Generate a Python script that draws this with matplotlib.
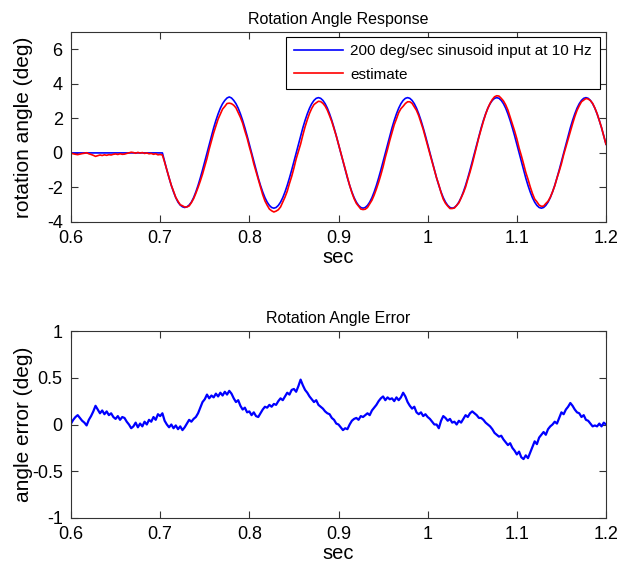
import numpy as np
import matplotlib
matplotlib.use("Agg")
import matplotlib.pyplot as plt

plt.rcParams['font.family'] = ['Liberation Sans', 'DejaVu Sans']

# time grid of the recorded samples (sec)
t_start, t_end, t_step = 0.6, 1.2, 0.0025

# input rotation angle (deg), one value per sample
input_angle = [0.0] * 42 + [
    -0.50, -0.99, -1.45, -1.88, -2.26, -2.59, -2.85, -3.02, -3.12, -3.16, -3.12, -3.02, -2.85, -2.59, -2.26, -1.88, -1.45, -0.99, -0.50,
    0.00, 0.50, 0.99, 1.45, 1.88, 2.26, 2.59, 2.85, 3.04, 3.18, 3.24, 3.18, 3.04, 2.85, 2.59, 2.26, 1.88, 1.45, 0.99, 0.50,
    0.00, -0.50, -0.99, -1.45, -1.88, -2.26, -2.59, -2.85, -3.04, -3.16, -3.20, -3.16, -3.04, -2.85, -2.59, -2.26, -1.88, -1.45, -0.99, -0.50,
    0.00, 0.50, 0.99, 1.45, 1.88, 2.26, 2.59, 2.85, 3.04, 3.16, 3.20, 3.16, 3.04, 2.85, 2.59, 2.26, 1.88, 1.45, 0.99, 0.50,
    0.00, -0.50, -0.99, -1.45, -1.88, -2.26, -2.59, -2.85, -3.04, -3.16, -3.20, -3.16, -3.04, -2.85, -2.59, -2.26, -1.88, -1.45, -0.99, -0.50,
    0.00, 0.50, 0.99, 1.45, 1.88, 2.26, 2.59, 2.85, 3.04, 3.16, 3.20, 3.16, 3.04, 2.85, 2.59, 2.26, 1.88, 1.45, 0.99, 0.50,
    0.00, -0.50, -0.99, -1.45, -1.88, -2.26, -2.59, -2.85, -3.04, -3.16, -3.20, -3.16, -3.04, -2.85, -2.59, -2.26, -1.88, -1.45, -0.99, -0.50,
    0.00, 0.50, 0.99, 1.45, 1.88, 2.26, 2.59, 2.85, 3.04, 3.16, 3.20, 3.16, 3.04, 2.85, 2.59, 2.26, 1.88, 1.45, 0.99, 0.50,
    0.00, -0.50, -0.99, -1.45, -1.88, -2.26, -2.59, -2.85, -3.04, -3.16, -3.20, -3.16, -3.04, -2.85, -2.59, -2.26, -1.88, -1.45, -0.99, -0.50,
    0.00, 0.50, 0.99, 1.45, 1.88, 2.26, 2.59, 2.85, 3.04, 3.16, 3.20, 3.16, 3.04, 2.85, 2.59, 2.26, 1.88, 1.45, 0.99, 0.50,
]

# angle error (deg) = input - estimate, one value per sample
angle_error = [
    0.01, 0.05, 0.08, 0.10,   0.07, 0.04, 0.02, -0.01,   0.05, 0.09, 0.14, 0.20,   0.16, 0.12, 0.15, 0.11,
    0.14, 0.10, 0.12, 0.08,   0.06, 0.09, 0.05, 0.08,    0.07, 0.03, 0.00, -0.04,  -0.02, 0.02, -0.03, 0.01,
    -0.02, 0.03, 0.00, 0.05,  0.03, 0.08, 0.05, 0.11,    0.09, 0.12, 0.04, 0.00,   -0.03, 0.00, -0.04, -0.01,
    -0.05, -0.02, -0.06, -0.03, 0.01, 0.05, 0.03, 0.06,  0.08, 0.12, 0.18, 0.24,   0.27, 0.32, 0.28, 0.31,
    0.29, 0.33, 0.30, 0.34,   0.31, 0.35, 0.32, 0.36,    0.33, 0.28, 0.24, 0.26,   0.20, 0.16, 0.18, 0.13,
    0.14, 0.10, 0.13, 0.09,   0.08, 0.12, 0.16, 0.19,    0.18, 0.21, 0.19, 0.22,   0.21, 0.25, 0.28, 0.26,
    0.30, 0.34, 0.32, 0.37,   0.38, 0.35, 0.41, 0.48,    0.42, 0.37, 0.34, 0.30,   0.27, 0.24, 0.26, 0.21,
    0.19, 0.17, 0.14, 0.12,   0.11, 0.07, 0.05, 0.01,    0.00, -0.03, -0.06, -0.04, -0.05, 0.00, 0.04, 0.06,
    0.07, 0.05, 0.09, 0.08,   0.10, 0.12, 0.10, 0.15,    0.18, 0.21, 0.25, 0.28,   0.30, 0.26, 0.29, 0.27,
    0.28, 0.25, 0.29, 0.26,   0.29, 0.34, 0.30, 0.24,    0.20, 0.17, 0.19, 0.13,   0.11, 0.13, 0.09, 0.11,
    0.08, 0.06, 0.03, 0.00,   0.00, -0.04, 0.04, 0.09,   0.07, 0.04, 0.06, 0.02,   0.03, 0.00, 0.04, 0.02,
    0.06, 0.10, 0.08, 0.12,   0.14, 0.12, 0.10, 0.07,    0.07, 0.05, 0.02, 0.00,   -0.02, -0.05, -0.09, -0.11,
    -0.13, -0.12, -0.16, -0.19, -0.22, -0.20, -0.25, -0.28, -0.32, -0.29, -0.35, -0.37, -0.33, -0.36, -0.30, -0.24,
    -0.18, -0.21, -0.14, -0.11, -0.08, -0.11, -0.05, -0.02, 0.00, 0.03, 0.01, 0.07,   0.13, 0.11, 0.16, 0.19,
    0.23, 0.20, 0.16, 0.13,   0.12, 0.08, 0.10, 0.05,    0.04, 0.01, -0.02, -0.01, -0.02, 0.01, -0.02, 0.02,
    0.00,
]

x_ticks = [0.6, 0.7, 0.8, 0.9, 1.0, 1.1, 1.2]
x_tick_labels = ['0.6', '0.7', '0.8', '0.9', '1', '1.1', '1.2']
top_y_ticks = [-4, -2, 0, 2, 4, 6]
top_y_labels = ['-4', '-2', '0', '2', '4', '6']
bot_y_ticks = [-1, -0.5, 0, 0.5, 1]
bot_y_labels = ['-1', '-0.5', '0', '0.5', '1']

t = np.round(np.arange(len(angle_error)) * t_step + t_start, 6)
inp = np.array(input_angle)
err = np.array(angle_error)
est = inp - err

fig = plt.figure(figsize=(6.21, 5.62), dpi=100)
ax1 = fig.add_axes([71/621, 1 - 222/562, 535/621, 190/562])
ax2 = fig.add_axes([71/621, 1 - 518/562, 535/621, 187/562])

ax1.plot(t, inp, color='#0000ff', lw=1.2, label='200 deg/sec sinusoid input at 10 Hz')
ax1.plot(t, est, color='#ff0000', lw=1.2, label='estimate')
ax2.plot(t, err, color='#0000ff', lw=1.6)

for ax, h in ((ax1, 190), (ax2, 187)):
    ax.set_xlim(t_start, t_end)
    ax.set_xticks(x_ticks)
    ax.set_xticklabels(x_tick_labels)
    ax.tick_params(direction='in', top=True, right=True, length=5, width=0.8,
                   labelsize=13, pad=6, color='#333333')
    for s in ax.spines.values():
        s.set_linewidth(0.8)
        s.set_color('#333333')
    ax.set_xlabel('sec', fontsize=14.5)
    ax.xaxis.label.set_va('center')
    ax.xaxis.set_label_coords(0.5, -35.5 / h)
    ax.yaxis.set_label_coords(-47 / 535, 0.5)

ax1.set_ylim(-4, 7)
ax1.set_yticks(top_y_ticks)
ax1.set_yticklabels(top_y_labels)
ax1.set_ylabel('rotation angle (deg)', fontsize=15, va='center')
ax1.set_title('Rotation Angle Response', fontsize=11.5, pad=6)

ax2.set_ylim(-1, 1)
ax2.set_yticks(bot_y_ticks)
ax2.set_yticklabels(bot_y_labels)
ax2.set_ylabel('angle error (deg)', fontsize=15, va='center')
ax2.set_title('Rotation Angle Error', fontsize=11.5, pad=6)

leg = ax1.legend(loc='upper right', bbox_to_anchor=(0.988, 0.975), fontsize=11,
                 frameon=True, fancybox=False, edgecolor='black', framealpha=1,
                 handlelength=3.2, handletextpad=0.5, borderpad=0.5,
                 labelspacing=0.6, borderaxespad=0)
leg.get_frame().set_linewidth(0.8)

fig.savefig('out.png', dpi=100, facecolor='white')
